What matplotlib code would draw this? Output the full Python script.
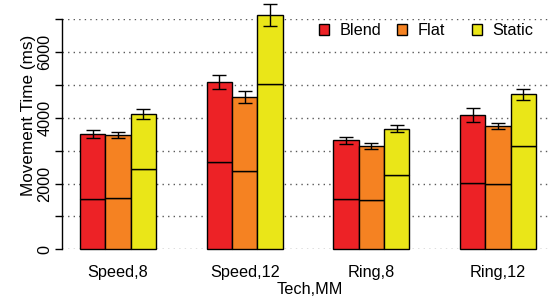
import matplotlib
matplotlib.use("Agg")
import matplotlib.pyplot as plt
from matplotlib.patches import Patch
import numpy as np

plt.rcParams['font.family'] = ['Liberation Sans', 'DejaVu Sans']

groups = ["Speed,8", "Speed,12", "Ring,8", "Ring,12"]
series = ["Blend", "Flat", "Static"]

blend_total = [3510, 5080, 3310, 4080]
flat_total = [3475, 4630, 3130, 3750]
static_total = [4100, 7120, 3670, 4710]

blend_lower = [1520, 2650, 1520, 2005]
flat_lower = [1560, 2370, 1490, 1975]
static_lower = [2430, 5025, 2260, 3130]

blend_err = [115, 220, 100, 210]
flat_err = [100, 170, 90, 100]
static_err = [150, 330, 100, 160]

yticks = [0, 1000, 2000, 3000, 4000, 5000, 6000, 7000]
ytick_labels = ["0", "", "2000", "", "4000", "", "6000", ""]

colors = ["#ED2226", "#F58222", "#EAE618"]

W, H = 549, 301
AX_L, AX_B, AX_T = 62, 249.3, 19
fig = plt.figure(figsize=(W / 100, H / 100), dpi=100)
ax = fig.add_axes([AX_L / W, 1 - AX_B / H, 1 - AX_L / W, (AX_B - AX_T) / H])


def ax_x(px):
    return (px - AX_L) / (W - AX_L)


def ax_y(py):
    return (AX_B - py) / (AX_B - AX_T)


totals = [blend_total, flat_total, static_total]
lowers = [blend_lower, flat_lower, static_lower]
errs = [blend_err, flat_err, static_err]

fs = 11.7
for yv in yticks:
    ax.axhline(yv, color="#5a5a5a", lw=1.0, ls=(0, (1, 3)), zorder=0)

g = np.arange(len(groups))
for k in range(3):
    x = 5 * g + k
    tot = np.array(totals[k])
    low = np.array(lowers[k])
    ax.bar(x, low, width=1.0, color=colors[k], edgecolor="black", linewidth=1.0, zorder=2, clip_on=False)
    ax.bar(x, tot - low, bottom=low, width=1.0, color=colors[k], edgecolor="black", linewidth=1.0, zorder=2, clip_on=False)
    ax.errorbar(x, tot, yerr=errs[k], fmt="none", ecolor="black", elinewidth=1.0, capsize=5, capthick=1.0, zorder=3, clip_on=False)

ax.set_xlim(-1.21, 18.01)
ax.set_ylim(0, 7000)

for s in ["top", "right", "bottom"]:
    ax.spines[s].set_visible(False)
ax.spines["left"].set_bounds(0, 7000)
ax.spines["left"].set_linewidth(1.0)

ax.set_yticks(yticks)
ax.set_yticklabels(ytick_labels, rotation=90, va="center", fontsize=fs)
ax.tick_params(axis="y", length=5, width=1.0, pad=2)

ax.set_xticks(5 * g + 1)
ax.set_xticklabels(groups, fontsize=fs)
ax.tick_params(axis="x", length=0, pad=11)

ax.set_xlabel("Tech,MM", fontsize=fs)
ax.xaxis.set_label_coords(ax_x(309.5), ax_y(282))
ax.set_ylabel("Movement Time (ms)", fontsize=12.3)
ax.yaxis.set_label_coords(ax_x(36), ax_y(115))

legend_x = [319, 397, 472]
for k in range(3):
    h = Patch(facecolor=colors[k], edgecolor="black", linewidth=1.0)
    leg = ax.legend([h], [series[k]], loc="center left", bbox_to_anchor=(ax_x(legend_x[k]), ax_y(30.7)),
                    frameon=False, fontsize=fs, handlelength=0.6, handleheight=0.6,
                    handletextpad=0.65, borderpad=0, borderaxespad=0)
    if k < 2:
        ax.add_artist(leg)

fig.savefig("out.png", dpi=100)
